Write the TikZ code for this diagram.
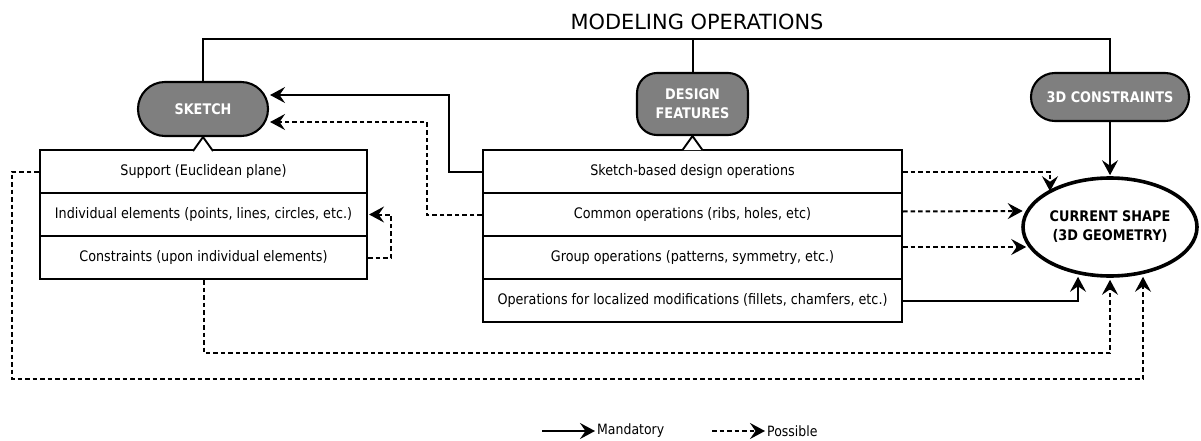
\documentclass[tikz,border=0pt]{standalone}
\usepackage{fontspec}
\setmainfont{DejaVu Sans}[FakeStretch=0.88]
\newfontfamily\plainfont{DejaVu Sans}
\usetikzlibrary{arrows.meta,shapes.geometric,calc}
\definecolor{gfill}{HTML}{7F7F7F}
\begin{document}
\begin{tikzpicture}[x=1pt,y=-1pt,
  every node/.style={font=\fontsize{14.5}{17}\selectfont},
  tab/.style={draw,line width=2.1pt,rectangle,inner sep=0pt,minimum height=43pt},
  grp/.style={draw,line width=2.1pt,fill=gfill,text=white,font=\bfseries\fontsize{14.6}{19}\selectfont,align=center,inner sep=0pt},
  con/.style={line width=2pt,-{Stealth[length=15pt,width=16pt,inset=5.5pt]}},
  possib/.style={con,dash pattern=on 4.5pt off 3pt},
  tri/.style={line width=1.9pt,fill=white}
]
\useasboundingbox (0,0) rectangle (1201,441);
\node[font=\plainfont\fontsize{20.9}{24}\selectfont] (title) at (697,22) {MODELING OPERATIONS};
\node[grp, rounded corners=26.9pt, minimum width=130pt, minimum height=54pt] (sk) at (203,109) {SKETCH};
\node[grp, rounded corners=20pt, minimum width=111pt, minimum height=62pt] (df) at (692.5,104) {DESIGN\\FEATURES};
\node[grp, rounded corners=23.9pt, minimum width=158pt, minimum height=48pt] (tc) at (1110,97) {3D CONSTRAINTS};

\node[tab, minimum width=327pt] (s1) at (203.5,171.5) {Support (Euclidean plane)};
\node[tab, minimum width=327pt] (s2) at (203.5,214.5) {Individual elements (points, lines, circles, etc.)};
\node[tab, minimum width=327pt] (s3) at (203.5,257.5) {Constraints (upon individual elements)};

\node[tab, minimum width=419pt] (d1) at (692.5,171.5) {Sketch-based design operations};
\node[tab, minimum width=419pt] (d2) at (692.5,214.5) {Common operations (ribs, holes, etc)};
\node[tab, minimum width=419pt] (d3) at (692.5,257.5) {Group operations (patterns, symmetry, etc.)};
\node[tab, minimum width=419pt] (d4) at (692.5,300.5) {Operations for localized modifications (fillets, chamfers, etc.)};

\node[ellipse, draw, line width=3.6pt, minimum width=174pt, minimum height=98pt, align=center, inner sep=0pt,
  font=\bfseries\fontsize{14.6}{19}\selectfont] (cs) at (1110,227) {CURRENT SHAPE\\(3D GEOMETRY)};

% inheritance triangles
\draw[tri] ($(sk.south)+(-10,14)$) -- (sk.south) -- ($(sk.south)+(10,14)$);
\draw[tri] ($(df.south)+(-10,14)$) -- (df.south) -- ($(df.south)+(10,14)$);

% top bus
\draw[line width=2pt] (sk.north) -- ++(0,-42) -| (tc.north);
\draw[line width=2pt] (df.north) -- ++(0,-33);

% connectors
\draw[con] (d1.west) -- ++(-33,0) |- ($(sk.east)+(1,-14)$);
\draw[possib] (d2.west) -- ++(-55,0) |- ($(sk.east)+(1,13)$);
\draw[possib] (s3.east) -- ++(23,0) |- ($(s2.east)+(1,0)$);
\draw[possib] (s1.west) -- ++(-27,0) |- ($(cs.south)+(33,101)$) -- ($(cs.south)+(33,-1)$);
\draw[possib] (s3.south) |- ($(cs.south)+(0,75)$) -- ($(cs.south)+(0,2)$);
\draw[con] (d4.east) -| ($(cs.south)+(-32,-1)$);
\draw[possib] ($(d3.east)+(0,-10.5)$) -- ($(cs.west)+(5,20)$);
\draw[possib] ($(d2.east)+(0,-3)$) -- ($(cs.west)+(1.5,-16)$);
\draw[possib] (d1.east) -| ($(cs.north)+(-60,15)$);
\draw[con] (tc.south) -- ($(cs.north)+(0,-1)$);

% legend
\coordinate (l1) at (542,431);
\node[anchor=west, inner sep=2pt, font=\fontsize{14.2}{17}\selectfont] (lm) at (595,431) {Mandatory};
\draw[con] (l1) -- (lm.west);
\coordinate (l2) at (712,431);
\node[anchor=west, inner sep=2pt, font=\fontsize{14.2}{17}\selectfont] (lp) at (765,431) {Possible};
\draw[possib] (l2) -- (lp.west);
\end{tikzpicture}
\end{document}
